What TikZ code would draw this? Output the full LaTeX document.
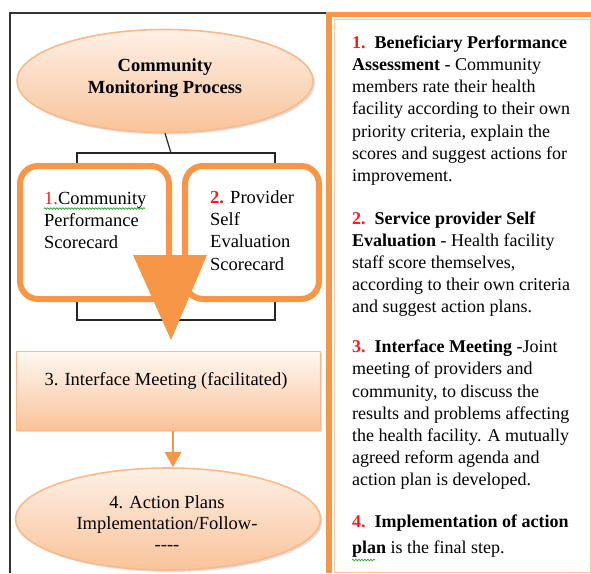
\documentclass[tikz,border=0pt]{standalone}
\usepackage{fontspec}
\setmainfont{Liberation Serif}
\usetikzlibrary{shapes.geometric,shadows,decorations.pathmorphing,arrows.meta}
\definecolor{accor}{HTML}{F79646}
\definecolor{peachA}{HTML}{FEF0E5}
\definecolor{peachB}{HTML}{F9C39A}
\definecolor{peachline}{HTML}{F9B98A}
\definecolor{numred}{HTML}{FF1A1A}
\definecolor{squig}{HTML}{2E9E2E}
\begin{document}
\begin{tikzpicture}[x=1pt,y=-1pt,
  lefttext/.style={font=\fontsize{18.5}{22.4}\selectfont, inner sep=0pt, align=left, anchor=base west},
  ctrtext/.style={font=\fontsize{18.5}{21.5}\selectfont, inner sep=0pt, align=center, anchor=base},
  righttext/.style={font=\fontsize{18}{22.2}\selectfont, inner sep=0pt, align=left, anchor=base west},
  softshadow/.style={drop shadow={opacity=0.25, shadow xshift=2pt, shadow yshift=-2pt}},
  ovalnode/.style={ellipse, draw=peachline, line width=1.6pt, top color=peachA, bottom color=peachB, inner sep=0pt, softshadow},
  scorebox/.style={rectangle, draw=accor, fill=white, line width=6pt, rounded corners=18pt, inner sep=0pt},
  link/.style={draw=black!85, line width=1.2pt},
  wavy/.style={draw=squig, line width=0.7pt, decorate, decoration={snake, segment length=3pt, amplitude=0.8pt}}
]
\useasboundingbox (0,0) rectangle (591,573);
\fill[white] (0,0) rectangle (591,573);

% frames
\draw[black!80, line width=1.3pt] (10,573) -- (10,13) -- (327,13);
\fill[accor] (326,12) rectangle (332,573);
\fill[accor] (326,12) rectangle (591,17);
\draw[peachline!80, line width=0.8pt] (334,19.5) rectangle (590,572);

% top ellipse
\node[ovalnode, minimum width=296pt, minimum height=103pt] (e1) at (165,81) {};
\node[ctrtext, font=\fontsize{18.5}{21.6}\selectfont\bfseries] (e1t) at (165,93.3) {Community\\Monitoring Process};

% connector coordinates
\coordinate (j0) at (171,153);
\coordinate (jl) at (77,153);
\coordinate (jr) at (275,153);
\coordinate (tl) at (77,166);
\coordinate (tr) at (275,166);
\coordinate (bl) at (77,299);
\coordinate (br) at (275,299);
\coordinate (kl) at (77,320);
\coordinate (kr) at (275,320);
\draw[link] (e1.south) -- (j0);
\draw[link] (tl) -- (jl) -- (jr) -- (tr);
\draw[link] (bl) -- (kl) -- (kr) -- (br);

% score boxes
\node[scorebox, minimum width=149pt, minimum height=133pt] (b1) at (94.5,232.5) {};
\node[scorebox, minimum width=134pt, minimum height=133pt] (b2) at (252,232.5) {};
\node[lefttext] (b1t) at (44,248.8) {\textcolor{numred}{1.}Community\\Performance\\Scorecard};
\node[lefttext] (b2t) at (210,270.2) {\textcolor{numred}{\bfseries 2.} Provider\\Self\\Evaluation\\Scorecard};
\coordinate (w1a) at (44,208.5);
\coordinate (w1b) at (145,208.5);
\draw[wavy] (w1a) -- (w1b);

% big down arrow
\fill[accor] (133,255) -- (207,255) -- (171,340) -- cycle;

% interface meeting box
\node[rectangle, draw=peachline, line width=1pt, top color=peachA!50!white, bottom color=peachB, minimum width=304pt, minimum height=79pt, inner sep=0pt, softshadow] (box3) at (168,390.5) {};
\node[ctrtext] (box3t) at (166,385) {3. Interface Meeting (facilitated)};

% bottom ellipse
\node[ovalnode, minimum width=305pt, minimum height=102pt] (e2) at (168,519) {};
\node[ctrtext, font=\fontsize{18.5}{21}\selectfont] (e2t) at (167,550.3) {4. Action Plans\\Implementation/Follow-\\-{}-{}-{}-};

\coordinate (ax) at (173,0);
\draw[accor, line width=2.5pt, -{Triangle[length=15pt,width=16pt]}] (box3.south -| ax) -- (e2.north -| ax);

% right panel text
\node[righttext] (p1) at (352,181.5) {\textcolor{numred}{\bfseries 1.}\hspace{0.5em}\textbf{Beneficiary Performance}\\\textbf{Assessment} - Community\\members rate their health\\facility according to their own\\priority criteria, explain the\\scores and suggest actions for\\improvement.};
\node[righttext] (p2) at (352,312.8) {\textcolor{numred}{\bfseries 2.}\hspace{0.5em}\textbf{Service provider Self}\\\textbf{Evaluation} - Health facility\\staff score themselves,\\according to their own criteria\\and suggest action plans.};
\node[righttext] (p3) at (352,485.9) {\textcolor{numred}{\bfseries 3.}\hspace{0.5em}\textbf{Interface Meeting} -Joint\\meeting of providers and\\community, to discuss the\\results and problems affecting\\the health facility. A mutually\\agreed reform agenda and\\action plan is developed.};
\node[righttext] (p4) at (352,553.3) {\textcolor{numred}{\bfseries 4.}\hspace{0.5em}\textbf{Implementation of action}\\[3.8pt]\textbf{plan} is the final step.};
\coordinate (w2a) at (352,560);
\coordinate (w2b) at (375,560);
\draw[wavy] (w2a) -- (w2b);
\end{tikzpicture}
\end{document}
